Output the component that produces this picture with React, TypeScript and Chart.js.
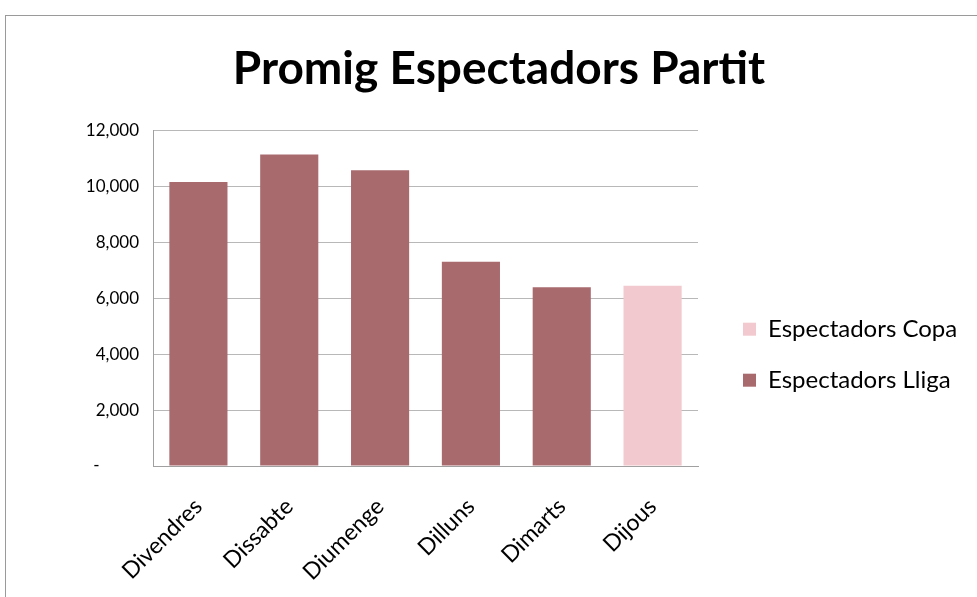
import { useEffect, useRef } from "react";
import { Chart, registerables } from "chart.js";

Chart.register(...registerables);

const categories = ["Divendres", "Dissabte", "Diumenge", "Dilluns", "Dimarts", "Dijous"];
const lligaValues = [10150, 11130, 10570, 7300, 6390, null];
const copaValues = [null, null, null, null, null, 6440];
const yMin = 0;
const yMax = 12000;
const yStep = 2000;
const zeroLabel = "-\u2007\u2007\u2007\u2007";

const FONT = "Lato, 'Open Sans', sans-serif";

// places the legend a little to the right of the plot area and lets the
// y tick labels and legend text use the free space beside them
const layoutTweaks = {
  id: "layoutTweaks",
  afterLayout(chart: any) {
    const lg = chart.legend;
    if (lg) {
      lg.left = chart.chartArea.right + 18;
      lg.right = chart.width;
      lg.width = lg.right - lg.left;
    }
    const y = chart.scales.y;
    if (y) {
      y.left = 0;
    }
  },
};

export default function App() {
  const ref = useRef<HTMLCanvasElement | null>(null);

  useEffect(() => {
    if (!ref.current) return;
    const chart = new Chart(ref.current, {
      type: "bar",
      data: {
        labels: categories,
        datasets: [
          {
            label: "Espectadors Lliga",
            data: lligaValues,
            backgroundColor: "#A96A6E",
            borderWidth: 0,
          },
          {
            label: "Espectadors Copa",
            data: copaValues,
            backgroundColor: "#F1C9CE",
            borderWidth: 0,
          },
        ],
      },
      plugins: [layoutTweaks],
      options: {
        animation: false,
        responsive: false,
        maintainAspectRatio: false,
        layout: { padding: { top: 42, left: 120, right: 99, bottom: 0 } },
        datasets: { bar: { categoryPercentage: 1, barPercentage: 0.64 } },
        plugins: {
          tooltip: { enabled: false },
          title: {
            display: true,
            text: "Promig Espectadors Partit",
            color: "#000",
            font: { family: FONT, size: 46, weight: "bold" },
            padding: { top: 0, bottom: 33 },
          },
          legend: {
            display: true,
            position: "right",
            reverse: true,
            maxWidth: 180,
            title: { display: true, text: "", padding: { top: 28, bottom: 28 } },
            labels: {
              color: "#000",
              font: { family: FONT, size: 24 },
              boxWidth: 13,
              boxHeight: 13,
              padding: 27,
            },
          },
        },
        scales: {
          x: {
            stacked: true,
            grid: { display: false, drawTicks: false },
            border: { display: true, color: "#A0A0A0" },
            afterFit: (s: any) => {
              s.height = 131;
            },
            ticks: {
              color: "#000",
              font: { family: FONT, size: 23 },
              minRotation: 45,
              maxRotation: 45,
              padding: 27,
            },
          },
          y: {
            stacked: true,
            min: yMin,
            max: yMax,
            grid: { color: "#B8B8B8", drawTicks: false },
            border: { display: true, color: "#A0A0A0" },
            afterFit: (s: any) => {
              s.width = 33;
            },
            ticks: {
              stepSize: yStep,
              color: "#000",
              font: { family: FONT, size: 17 },
              padding: 14,
              callback: (v: any) => (Number(v) === 0 ? zeroLabel : Number(v).toLocaleString("en-US")),
            },
          },
        },
      },
    });
    return () => chart.destroy();
  }, []);

  return (
    <div style={{ position: "absolute", left: 0, top: 0, width: 977, height: 597, background: "#fff", overflow: "hidden" }}>
      <div
        style={{
          position: "absolute",
          left: 5,
          top: 15,
          width: 1000,
          height: 600,
          borderTop: "1px solid #9A9A9A",
          borderLeft: "1px solid #9A9A9A",
        }}
      />
      <canvas ref={ref} width={977} height={597} style={{ position: "absolute", left: 0, top: 0 }} />
    </div>
  );
}
